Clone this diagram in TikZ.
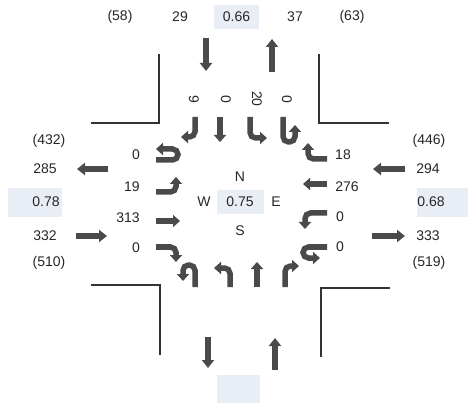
\documentclass[tikz,border=0pt]{standalone}
\usepackage{fontspec}
\setmainfont{Liberation Sans}
\usetikzlibrary{arrows.meta}
\definecolor{boxc}{HTML}{E9EDF5}
\definecolor{arrc}{HTML}{4A4A4A}
\begin{document}
\begin{tikzpicture}[x=1pt,y=-1pt,
  lbl/.style={font=\fontsize{14}{16}\selectfont, text=black!85, inner sep=0pt, anchor=center},
  mv/.style={line width=5.5pt, draw=arrc, rounded corners=5.5pt, -{Triangle[length=7pt,width=12pt]}},
  big/.style={line width=5.5pt, draw=arrc, -{Triangle[length=8pt,width=12pt]}},
  curb/.style={line width=1.3pt, draw=black!80}]
\useasboundingbox (0,0) rectangle (468,403);

% shaded ratio boxes
\fill[boxc] (214,5) rectangle (259,29);
\fill[boxc] (8,188) rectangle (62,217);
\fill[boxc] (417,188) rectangle (468,217);
\fill[boxc] (217,190) rectangle (264,214);
\fill[boxc] (217,375) rectangle (260,403);

% curb lines
\draw[curb] (159,54) -- (159,123) -- (91,123);
\draw[curb] (319,54) -- (319,123) -- (389,123);
\draw[curb] (91,285) -- (160,285) -- (160,355);
\draw[curb] (390,288) -- (321,288) -- (321,357);

% top labels
\node[lbl] (n58) at (120,17) {(58)};
\node[lbl] (n29) at (180,17) {29};
\node[lbl] (n066) at (236.5,17) {0.66};
\node[lbl] (n37) at (295,17) {37};
\node[lbl] (n63) at (352,17) {(63)};

% left labels
\node[lbl] (w432) at (49,141) {(432)};
\node[lbl] (w285) at (45,169) {285};
\node[lbl] (w078) at (46,202) {0.78};
\node[lbl] (w332) at (45,236) {332};
\node[lbl] (w510) at (49,263) {(510)};

% right labels
\node[lbl] (e446) at (429,141) {(446)};
\node[lbl] (e294) at (428,169) {294};
\node[lbl] (e068) at (431,202) {0.68};
\node[lbl] (e333) at (428,236) {333};
\node[lbl] (e519) at (429,263) {(519)};

% centre
\node[lbl] (cn) at (240,177) {N};
\node[lbl] (cw) at (204,202) {W};
\node[lbl] (cv) at (240,202) {0.75};
\node[lbl] (ce) at (276,202) {E};
\node[lbl] (cs) at (240,231) {S};

% north approach lane volumes (rotated)
\node[lbl, rotate=-90] (nr) at (194,99) {9};
\node[lbl, rotate=-90] (nt) at (226,99) {0};
\node[lbl, rotate=-90] (nl) at (257,99) {20};
\node[lbl, rotate=-90] (nu) at (287,99) {0};

% west approach lane volumes
\node[lbl] (wu) at (136,155) {0};
\node[lbl] (wl) at (132,187) {19};
\node[lbl] (wt) at (128,218) {313};
\node[lbl] (wr) at (136,248) {0};

% east approach lane volumes
\node[lbl] (er) at (343,155) {18};
\node[lbl] (et) at (347,187) {276};
\node[lbl] (el) at (340,217) {0};
\node[lbl] (eu) at (340,247) {0};

% approach arrows
\draw[big] (206,38) -- (206,71);
\draw[big] (272,72) -- (272,39);
\draw[big] (275,370) -- (275,338);
\draw[big] (208,337) -- (208,368);
\draw[big] (108,169) -- (77,169);
\draw[big] (76,236) -- (107,236);
\draw[big] (372,236) -- (405,236);
\draw[big] (405,169) -- (373,169);

% north approach movements
\draw[mv] (195,117) -- (195,137) -- (181,137);
\draw[mv] (220,117) -- (220,142);
\draw[mv] (250,117) -- (250,138) -- (267,138);
\draw[mv] (283,117) -- (283,142) -- (295,142) -- (295,125);

% west approach movements
\draw[mv] (156,160) -- (178,160) -- (178,149) -- (156,149);
\draw[mv] (156,192) -- (176,192) -- (176,177);
\draw[mv] (156,221) -- (180,221);
\draw[mv] (156,247) -- (176,247) -- (176,262);

% east approach movements
\draw[mv] (327,159) -- (308,159) -- (308,143);
\draw[mv] (327,184) -- (303,184);
\draw[mv] (327,213) -- (305,213) -- (305,229);
\draw[mv] (327,247) -- (303,247) -- (303,258) -- (320,258);

% south approach movements
\draw[mv] (195,287) -- (195,265) -- (183,265) -- (183,281);
\draw[mv] (230,287) -- (230,268) -- (214,268);
\draw[mv] (257,287) -- (257,262);
\draw[mv] (285,287) -- (285,266) -- (299,266);
\end{tikzpicture}
\end{document}
